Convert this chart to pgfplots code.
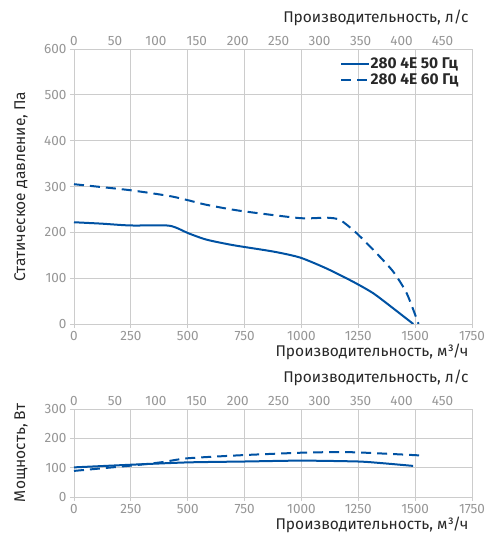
\documentclass[border=0pt]{standalone}
\usepackage{fontspec}
\setmainfont{Fira Sans}
\usepackage{pgfplots}
\pgfplotsset{compat=1.18}

\definecolor{curve}{RGB}{0,82,163}
\definecolor{gridc}{RGB}{204,204,204}
\definecolor{tickc}{RGB}{150,150,150}
\definecolor{labc}{RGB}{40,40,40}

\pgfplotsset{
  common/.style={
    width=398bp, scale only axis,
    ticklabel style={font=\fontsize{13.5bp}{15bp}\selectfont, text=tickc},
    /pgf/number format/1000 sep={},
    /pgf/number format/assume math mode=true,
    label style={font=\fontsize{15.5bp}{17bp}\selectfont, text=labc},
    axis line style={gridc, line width=0.8bp},
    tick style={gridc, line width=0.8bp},
  },
  flow/.style={
    common,
    xmin=0, xmax=1750, xtick={0,250,...,1750},
    grid=major, grid style={gridc, line width=0.8bp},
    tick align=outside, major tick length=4bp,
    xtick pos=bottom, ytick pos=left,
    xlabel={Производительность, м³/ч},
    xlabel style={at={(axis description cs:1,0)}, anchor=east, yshift=-28bp},
    ylabel style={at={(axis description cs:-0.133,0.5)}, anchor=center},
  },
  lps/.style={
    common,
    xmin=0, xmax=486.111, xtick={0,50,...,450},
    ymin=0, ymax=1,
    axis x line*=top, axis y line=none,
    major tick length=0pt,
    xlabel={Производительность, л/с},
    xlabel style={at={(axis description cs:1,1)}, anchor=east, yshift=31bp},
  },
}

\begin{document}
\begin{tikzpicture}
\useasboundingbox (-74bp,-211bp) rectangle (417bp,324bp);

% pressure
\begin{axis}[flow,
  height=275bp,
  ymin=0, ymax=600, ytick={0,100,...,600},
  ylabel={Статическое давление, Па},
  legend style={at={(1,1)}, anchor=north east, xshift=-13bp, yshift=-8bp,
    draw=none, fill=none, font=\fontsize{15.5bp}{17bp}\selectfont\bfseries,
    text=labc, row sep=2.5bp, inner sep=0bp,
    nodes={inner sep=0.5bp}},
  legend cell align=left,
  legend image code/.code={\draw[#1] (0bp,0bp) -- (28bp,0bp);},
]
\addplot[curve, line width=2bp, smooth, tension=0.4] coordinates {
  (0,222) (120,219) (246,215) (407,215) (450,210) (503,198) (583,184)
  (700,172) (877,158) (994,145) (1111,121) (1228,92) (1316,67) (1404,34) (1492,0)
};
\addlegendentry{280 4E 50 Гц}
\addplot[curve, line width=2bp, dash pattern=on 10bp off 6bp, smooth, tension=0.4] coordinates {
  (0,305) (246,292) (422,279) (510,269) (583,260) (730,247) (994,231)
  (1111,232) (1170,227) (1243,198) (1331,154) (1404,114) (1463,67) (1515,0)
};
\addlegendentry{280 4E 60 Гц}
\end{axis}
\begin{axis}[lps, height=275bp]
\end{axis}

% power
\begin{axis}[flow,
  at={(0bp,-173bp)},
  height=88bp,
  ymin=0, ymax=300, ytick={0,100,200,300},
  ylabel={Мощность, Вт},
]
\addplot[curve, line width=2bp, smooth, tension=0.4] coordinates {
  (0,101) (250,110) (500,118) (750,121) (1000,124) (1250,121) (1360,115) (1491,106)
};
\addplot[curve, line width=2bp, dash pattern=on 10bp off 6bp, smooth, tension=0.4] coordinates {
  (0,89) (250,107) (380,118) (500,132) (750,143) (1000,151) (1140,153)
  (1250,152) (1491,143) (1528,141)
};
\end{axis}
\begin{axis}[lps, at={(0bp,-173bp)}, height=88bp]
\end{axis}
\end{tikzpicture}
\end{document}
